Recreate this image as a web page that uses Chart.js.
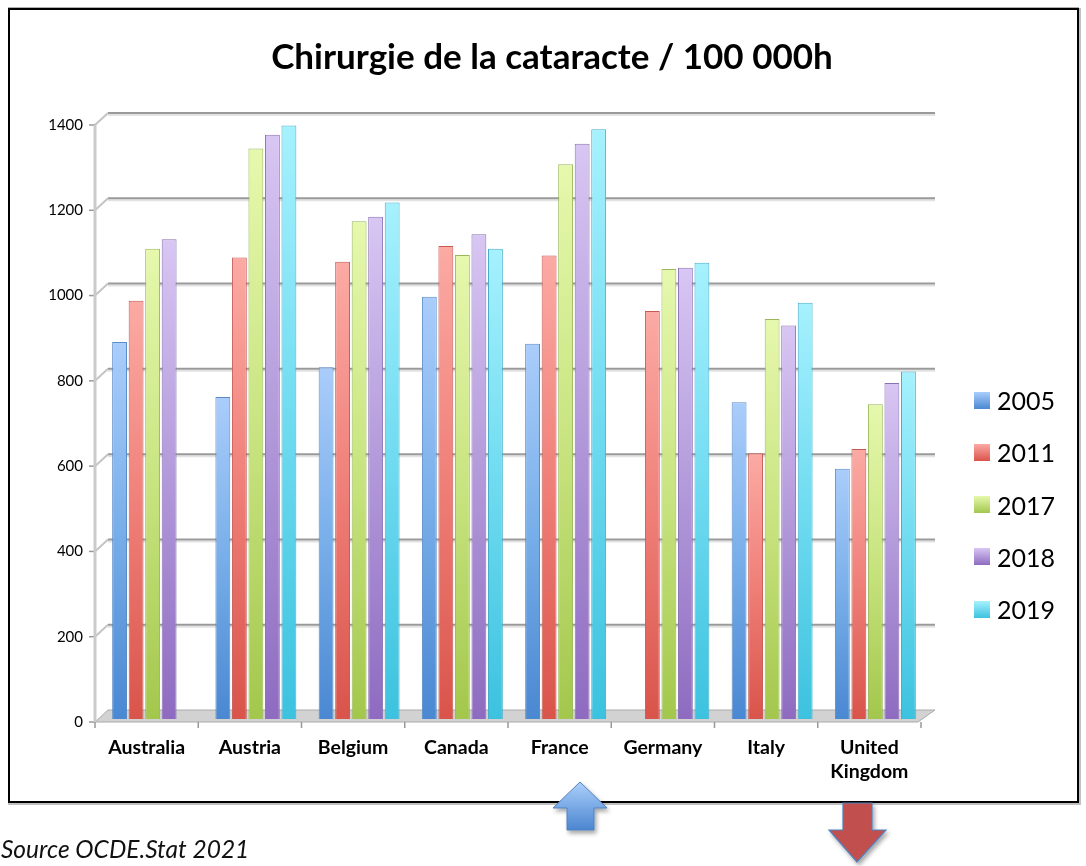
<!DOCTYPE html>
<html>
<head>
<meta charset="utf-8">
<script src="https://cdn.jsdelivr.net/npm/chart.js@4/dist/chart.umd.min.js"></script>
<style>
  html, body { margin:0; padding:0; background:#fff; }
  body { width:1086px; height:866px; position:relative; overflow:hidden; font-family: Lato, "Open Sans", sans-serif; }
  #frame { position:absolute; left:8px; top:8px; width:1067px; height:791px; border:2px solid #000;
           box-shadow: 0 -1px 0 0 #b0b0b0, 1px 1px 0 1px #c0c0c0; background:#fff; }
  #c { position:absolute; left:0; top:0; }
  #legend { position:absolute; left:964px; top:0; width:100px; height:791px; }
  .li { position:absolute; left:0; height:30px; display:flex; align-items:center; }
  .lb { width:16px; height:17px; margin-right:7px; }
  .lt { font-family: Lato, sans-serif; font-size:25px; color:#000; line-height:30px; }
  #source { position:absolute; left:1px; top:834px; font-family: Lato, sans-serif; font-style:italic; font-size:24.5px; color:#111; }
  #arrows { position:absolute; left:0; top:0; }
</style>
</head>
<body>
<div id="frame">
  <canvas id="c" width="1067" height="791"></canvas>
  <div id="legend"></div>
</div>
<svg id="arrows" width="1086" height="866">
  <defs>
    <linearGradient id="blueG" x1="0" y1="0" x2="0" y2="1">
      <stop offset="0" stop-color="#acd0fb"/>
      <stop offset="1" stop-color="#4b86d0"/>
    </linearGradient>
    <filter id="sh" x="-20%" y="-20%" width="150%" height="150%">
      <feDropShadow dx="2" dy="3" stdDeviation="2" flood-color="#000" flood-opacity="0.35"/>
    </filter>
  </defs>
  <path d="M580 782 L607 808 L594 808 L594 830 L567 830 L567 808 L553 808 Z" fill="url(#blueG)" stroke="#4f81bd" stroke-width="1" filter="url(#sh)"/>
  <path d="M843 803 L872 803 L872 830 L886 830 L857 862 L829 830 L843 830 Z" fill="#c0504d" stroke="#4f81bd" stroke-width="1.2" filter="url(#sh)"/>
</svg>
<div id="source">Source OCDE.Stat 2021</div>

<script>
// ---- Data ----
const categories = ['Australia', 'Austria', 'Belgium', 'Canada', 'France', 'Germany', 'Italy', ['United', 'Kingdom']];
const years = ['2005', '2011', '2017', '2018', '2019'];
const v2005 = [884, 755, 825, 990, 880, 0, 743, 587];
const v2011 = [981, 1082, 1072, 1109, 1087, 957, 623, 633];
const v2017 = [1103, 1338, 1167, 1088, 1301, 1055, 938, 738];
const v2018 = [1125, 1370, 1178, 1137, 1349, 1058, 923, 788];
const v2019 = [0, 1392, 1211, 1103, 1383, 1070, 976, 815];
const yTicks = [0, 200, 400, 600, 800, 1000, 1200, 1400];
const chartTitle = 'Chirurgie de la cataracte / 100 000h';

// ---- Styles ----
const palette = [
  { light: '#aacdfb', mid: '#78aee9', dark: '#4a88d2', border: '#5a8cc8' },
  { light: '#fcaaa4', mid: '#ef7f78', dark: '#d9544b', border: '#c45a52' },
  { light: '#e6f8ad', mid: '#c8e480', dark: '#a3c74c', border: '#9ab85a' },
  { light: '#d8c6f3', mid: '#b299da', dark: '#8e6bc0', border: '#8a72b4' },
  { light: '#a6f1fe', mid: '#6fdbf0', dark: '#3cc2df', border: '#45aecb' }
];
const seriesValues = [v2005, v2011, v2017, v2018, v2019];

function barGradient(p) {
  return (ctx) => {
    const chart = ctx.chart;
    const ys = chart.scales && chart.scales.y;
    if (ctx.type !== 'data' || !ys) return p.mid;
    const top = ys.getPixelForValue(ctx.raw || 0);
    const bottom = ys.getPixelForValue(0);
    if (!isFinite(top) || !isFinite(bottom) || bottom - top < 1) return p.mid;
    const g = chart.ctx.createLinearGradient(0, top, 0, bottom);
    g.addColorStop(0, p.light);
    g.addColorStop(0.5, p.mid);
    g.addColorStop(1, p.dark);
    return g;
  };
}

const datasets = years.map((yr, i) => ({
  label: yr,
  data: seriesValues[i],
  backgroundColor: barGradient(palette[i]),
  borderColor: palette[i].border,
  borderWidth: 1,
  borderSkipped: 'start',
  categoryPercentage: 0.8,
  barPercentage: 0.9
}));

// 3D-like wall, floor and axis decoration drawn from the scales
const deco = {
  id: 'deco',
  beforeDatasetsDraw(chart) {
    const { ctx, chartArea: a, scales: { x, y } } = chart;
    const FX = -6, FY = 3, BX = 7, BY = -9;
    const x0f = a.left + FX, x0b = a.left + BX;
    const x1b = a.right + 8, x1f = a.right - 9;
    ctx.save();
    const y0 = y.getPixelForValue(0);
    ctx.beginPath();
    ctx.moveTo(x0f, y0 + FY);
    ctx.lineTo(x1f, y0 + FY);
    ctx.lineTo(x1b, y0 + BY);
    ctx.lineTo(x0b, y0 + BY);
    ctx.closePath();
    ctx.fillStyle = '#d2d2d2';
    ctx.fill();
    ctx.strokeStyle = '#aaaaaa';
    ctx.lineWidth = 1;
    ctx.stroke();
    yTicks.forEach(v => {
      const yp = y.getPixelForValue(v);
      const yb = yp + BY, yf = yp + FY;
      if (v > 0) {
        ctx.strokeStyle = '#e2e2e2';
        ctx.lineWidth = 2;
        ctx.beginPath(); ctx.moveTo(x0b, yb + 2); ctx.lineTo(x1b, yb + 2); ctx.stroke();
        ctx.strokeStyle = '#9a9a9a';
        ctx.lineWidth = 2;
        ctx.beginPath(); ctx.moveTo(x0b, yb); ctx.lineTo(x1b, yb); ctx.stroke();
        ctx.strokeStyle = '#c4c4c4';
        ctx.beginPath(); ctx.moveTo(x0f, yf); ctx.lineTo(x0b, yb); ctx.stroke();
      }
      ctx.strokeStyle = '#999';
      ctx.lineWidth = 1.5;
      ctx.beginPath(); ctx.moveTo(x0f - 6, yf); ctx.lineTo(x0f, yf); ctx.stroke();
    });
    ctx.strokeStyle = '#cbcbcb';
    ctx.lineWidth = 3;
    ctx.beginPath();
    ctx.moveTo(x0f, y.getPixelForValue(1400) + FY);
    ctx.lineTo(x0f, y0 + FY);
    ctx.stroke();
    const step = (x.right - x.left) / categories.length;
    ctx.strokeStyle = '#999';
    ctx.lineWidth = 1.5;
    for (let i = 0; i <= categories.length; i++) {
      const bx = x.left + i * step + FX;
      ctx.beginPath(); ctx.moveTo(bx, y0 + FY); ctx.lineTo(bx, y0 + FY + 6); ctx.stroke();
    }
    ctx.restore();
  }
};

const chart = new Chart(document.getElementById('c'), {
  type: 'bar',
  data: { labels: categories, datasets },
  options: {
    responsive: false,
    animation: false,
    devicePixelRatio: 1,
    layout: { padding: { left: 17, right: 0, top: 0, bottom: 18 } },
    plugins: {
      legend: { display: false },
      tooltip: { enabled: false },
      title: {
        display: true,
        text: chartTitle,
        color: '#000',
        font: { family: 'Lato', size: 35, weight: 'bold', lineHeight: 1.2 },
        padding: { top: 27, bottom: 43 }
      }
    },
    scales: {
      x: {
        grid: { display: false, drawTicks: false },
        border: { display: false },
        afterFit: (s) => { s.height = 64; },
        ticks: {
          color: '#000',
          font: { family: 'Lato', size: 19.5, weight: 'bold', lineHeight: 1.23 },
          padding: 17,
          labelOffset: -6,
          maxRotation: 0,
          autoSkip: false
        }
      },
      y: {
        min: 0,
        max: 1400,
        grid: { display: false, drawTicks: false },
        border: { display: false },
        afterBuildTicks: (s) => { s.ticks = yTicks.map(v => ({ value: v })); },
        afterFit: (s) => { s.width = 74; },
        ticks: {
          color: '#000',
          font: { family: 'Lato', size: 15 },
          padding: 18,
          labelOffset: 3,
          callback: (v) => String(v)
        }
      },
      yRight: {
        type: 'linear',
        position: 'right',
        display: true,
        grid: { display: false, drawTicks: false },
        border: { display: false },
        ticks: { display: false },
        afterFit: (s) => { s.width = 150; }
      }
    }
  },
  plugins: [deco]
});

// HTML legend built from the chart datasets
const legendEl = document.getElementById('legend');
chart.data.datasets.forEach((ds, i) => {
  const item = document.createElement('div');
  item.className = 'li';
  item.style.top = (390 - 15 + i * 52.3) + 'px';
  const box = document.createElement('div');
  box.className = 'lb';
  box.style.background = 'linear-gradient(' + palette[i].light + ',' + palette[i].dark + ')';
  const txt = document.createElement('span');
  txt.className = 'lt';
  txt.textContent = ds.label;
  item.appendChild(box);
  item.appendChild(txt);
  legendEl.appendChild(item);
});
</script>
</body>
</html>
